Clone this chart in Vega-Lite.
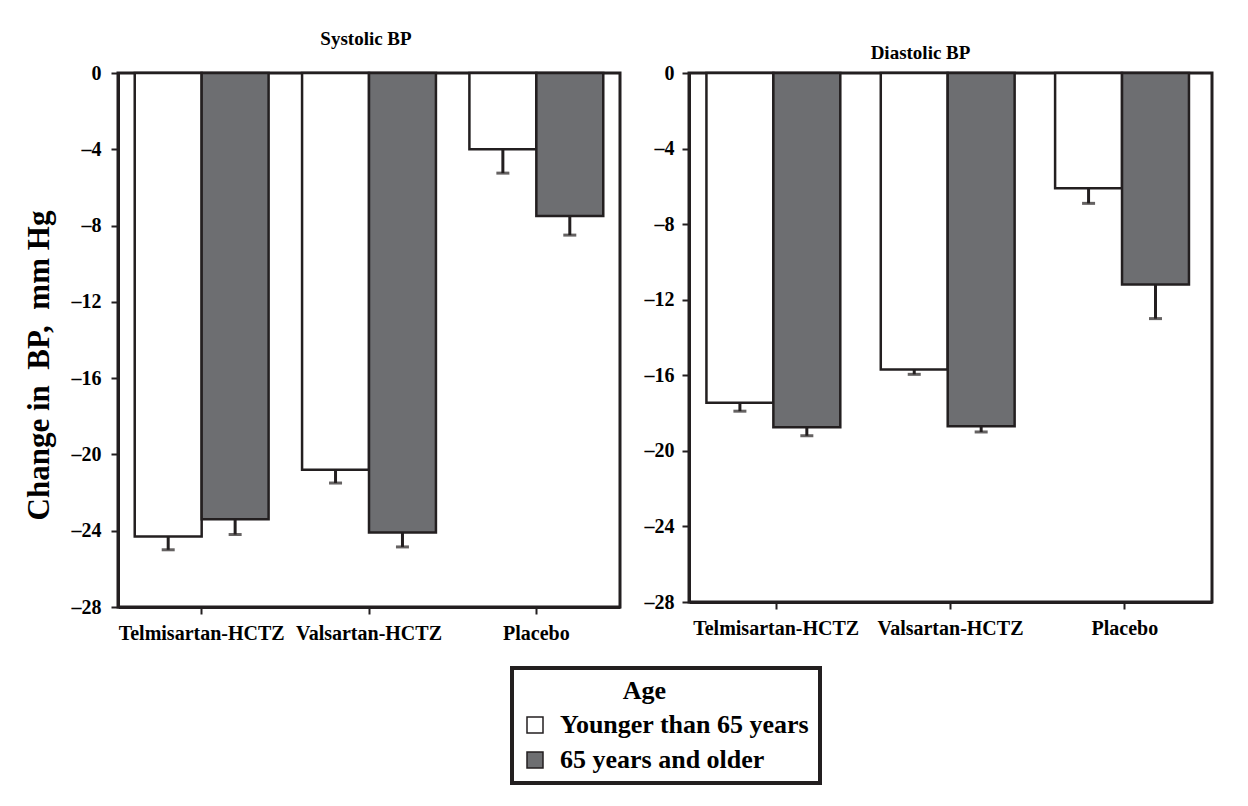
{
  "$schema": "https://vega.github.io/schema/vega-lite/v6.json",
  "padding": {"left": 21, "top": 28, "right": 5, "bottom": 5},
  "background": "white",
  "spacing": 20,
  "data": {
    "values": [
      {"panel": "Systolic", "drug": "Telmisartan-HCTZ", "age": "Younger than 65 years", "value": -24.3, "lo": -25.0},
      {"panel": "Systolic", "drug": "Telmisartan-HCTZ", "age": "65 years and older", "value": -23.4, "lo": -24.2},
      {"panel": "Systolic", "drug": "Valsartan-HCTZ", "age": "Younger than 65 years", "value": -20.8, "lo": -21.5},
      {"panel": "Systolic", "drug": "Valsartan-HCTZ", "age": "65 years and older", "value": -24.1, "lo": -24.85},
      {"panel": "Systolic", "drug": "Placebo", "age": "Younger than 65 years", "value": -4.0, "lo": -5.25},
      {"panel": "Systolic", "drug": "Placebo", "age": "65 years and older", "value": -7.5, "lo": -8.5},
      {"panel": "Diastolic", "drug": "Telmisartan-HCTZ", "age": "Younger than 65 years", "value": -17.45, "lo": -17.9},
      {"panel": "Diastolic", "drug": "Telmisartan-HCTZ", "age": "65 years and older", "value": -18.75, "lo": -19.2},
      {"panel": "Diastolic", "drug": "Valsartan-HCTZ", "age": "Younger than 65 years", "value": -15.7, "lo": -15.95},
      {"panel": "Diastolic", "drug": "Valsartan-HCTZ", "age": "65 years and older", "value": -18.7, "lo": -19.0},
      {"panel": "Diastolic", "drug": "Placebo", "age": "Younger than 65 years", "value": -6.1, "lo": -6.9},
      {"panel": "Diastolic", "drug": "Placebo", "age": "65 years and older", "value": -11.2, "lo": -13.0}
    ]
  },
  "config": {
    "font": "Liberation Serif",
    "view": {"stroke": "#231f20", "strokeWidth": 3},
    "axis": {
      "grid": false,
      "domainColor": "#231f20",
      "domainWidth": 3,
      "tickColor": "#231f20",
      "tickWidth": 2,
      "tickSize": 7,
      "labelFont": "Liberation Serif",
      "labelFontWeight": "bold",
      "labelFontSize": 20,
      "labelColor": "black",
      "titleFont": "Liberation Serif",
      "titleFontWeight": "bold",
      "titleColor": "black"
    },
    "title": {"font": "Liberation Serif", "fontSize": 19, "fontWeight": "bold", "color": "black", "anchor": "middle", "frame": "group"},
    "legend": {"strokeWidth": 4}
  },
  "hconcat": [
    {
      "width": 502,
      "height": 534,
      "title": {"text": "Systolic BP", "dx": -3, "offset": 14},
      "transform": [{"filter": "datum.panel === 'Systolic'"}],
      "encoding": {
        "x": {"field": "drug", "type": "nominal", "sort": ["Telmisartan-HCTZ", "Valsartan-HCTZ", "Placebo"], "scale": {"paddingInner": 0.2, "paddingOuter": 0.1}, "axis": {"title": null, "labelAngle": 0, "labelPadding": 9}},
        "xOffset": {"field": "age", "type": "nominal", "sort": ["Younger than 65 years", "65 years and older"]}
      },
      "layer": [
        {
          "mark": {"type": "bar", "stroke": "#231f20", "strokeWidth": 2.5},
          "encoding": {
            "y": {"field": "value", "type": "quantitative", "scale": {"domain": [-28, 0], "nice": false}, "axis": {"values": [0, -4, -8, -12, -16, -20, -24, -28], "labelExpr": "datum.value < 0 ? '–' + abs(datum.value) : '' + datum.value", "title": "Change in\u00a0 BP,\u00a0 mm Hg", "titleFontSize": 31, "titlePadding": 16, "titleY": 292, "labelPadding": 10}},
            "color": {"field": "age", "type": "nominal", "sort": ["Younger than 65 years", "65 years and older"], "scale": {"domain": ["Younger than 65 years", "65 years and older"], "range": ["#ffffff", "#6d6e71"]},
              "legend": {"orient": "none", "legendX": 394, "legendY": 595, "title": "Age", "titleFontSize": 26, "titleFont": "Liberation Serif", "titleFontWeight": "bold", "titleColor": "black", "titleAnchor": "middle", "titleAlign": "right", "titlePadding": 8, "titleLimit": 400, "labelFontSize": 26, "labelFont": "Liberation Serif", "labelFontWeight": "bold", "labelColor": "black", "labelOffset": 12, "labelLimit": 400, "symbolType": "square", "symbolSize": 256, "symbolStrokeColor": "#231f20", "symbolStrokeWidth": 1.5, "rowPadding": 9, "padding": 10, "strokeColor": "#231f20"}}
          }
        },
        {
          "mark": {"type": "rule", "color": "#231f20", "strokeWidth": 3},
          "encoding": {"y": {"field": "value", "type": "quantitative"}, "y2": {"field": "lo"}}
        },
        {
          "mark": {"type": "tick", "color": "#231f20", "thickness": 3, "size": 13, "orient": "horizontal"},
          "encoding": {"y": {"field": "lo", "type": "quantitative"}}
        }
      ]
    },
    {
      "width": 523,
      "height": 529,
      "title": {"text": "Diastolic BP", "dx": -30, "offset": 0},
      "transform": [{"filter": "datum.panel === 'Diastolic'"}],
      "encoding": {
        "x": {"field": "drug", "type": "nominal", "sort": ["Telmisartan-HCTZ", "Valsartan-HCTZ", "Placebo"], "scale": {"paddingInner": 0.2, "paddingOuter": 0.1}, "axis": {"title": null, "labelAngle": 0, "labelPadding": 9}},
        "xOffset": {"field": "age", "type": "nominal", "sort": ["Younger than 65 years", "65 years and older"]}
      },
      "layer": [
        {
          "mark": {"type": "bar", "stroke": "#231f20", "strokeWidth": 2.5},
          "encoding": {
            "y": {"field": "value", "type": "quantitative", "scale": {"domain": [-28, 0], "nice": false}, "axis": {"values": [0, -4, -8, -12, -16, -20, -24, -28], "labelExpr": "datum.value < 0 ? '–' + abs(datum.value) : '' + datum.value", "title": null, "labelPadding": 8}},
            "color": {"field": "age", "type": "nominal", "sort": ["Younger than 65 years", "65 years and older"], "scale": {"domain": ["Younger than 65 years", "65 years and older"], "range": ["#ffffff", "#6d6e71"]},
              "legend": {"orient": "none", "legendX": 394, "legendY": 595, "title": "Age", "titleFontSize": 26, "titleFont": "Liberation Serif", "titleFontWeight": "bold", "titleColor": "black", "titleAnchor": "middle", "titleAlign": "right", "titlePadding": 8, "titleLimit": 400, "labelFontSize": 26, "labelFont": "Liberation Serif", "labelFontWeight": "bold", "labelColor": "black", "labelOffset": 12, "labelLimit": 400, "symbolType": "square", "symbolSize": 256, "symbolStrokeColor": "#231f20", "symbolStrokeWidth": 1.5, "rowPadding": 9, "padding": 10, "strokeColor": "#231f20"}}
          }
        },
        {
          "mark": {"type": "rule", "color": "#231f20", "strokeWidth": 3},
          "encoding": {"y": {"field": "value", "type": "quantitative"}, "y2": {"field": "lo"}}
        },
        {
          "mark": {"type": "tick", "color": "#231f20", "thickness": 3, "size": 13, "orient": "horizontal"},
          "encoding": {"y": {"field": "lo", "type": "quantitative"}}
        }
      ]
    }
  ]
}
